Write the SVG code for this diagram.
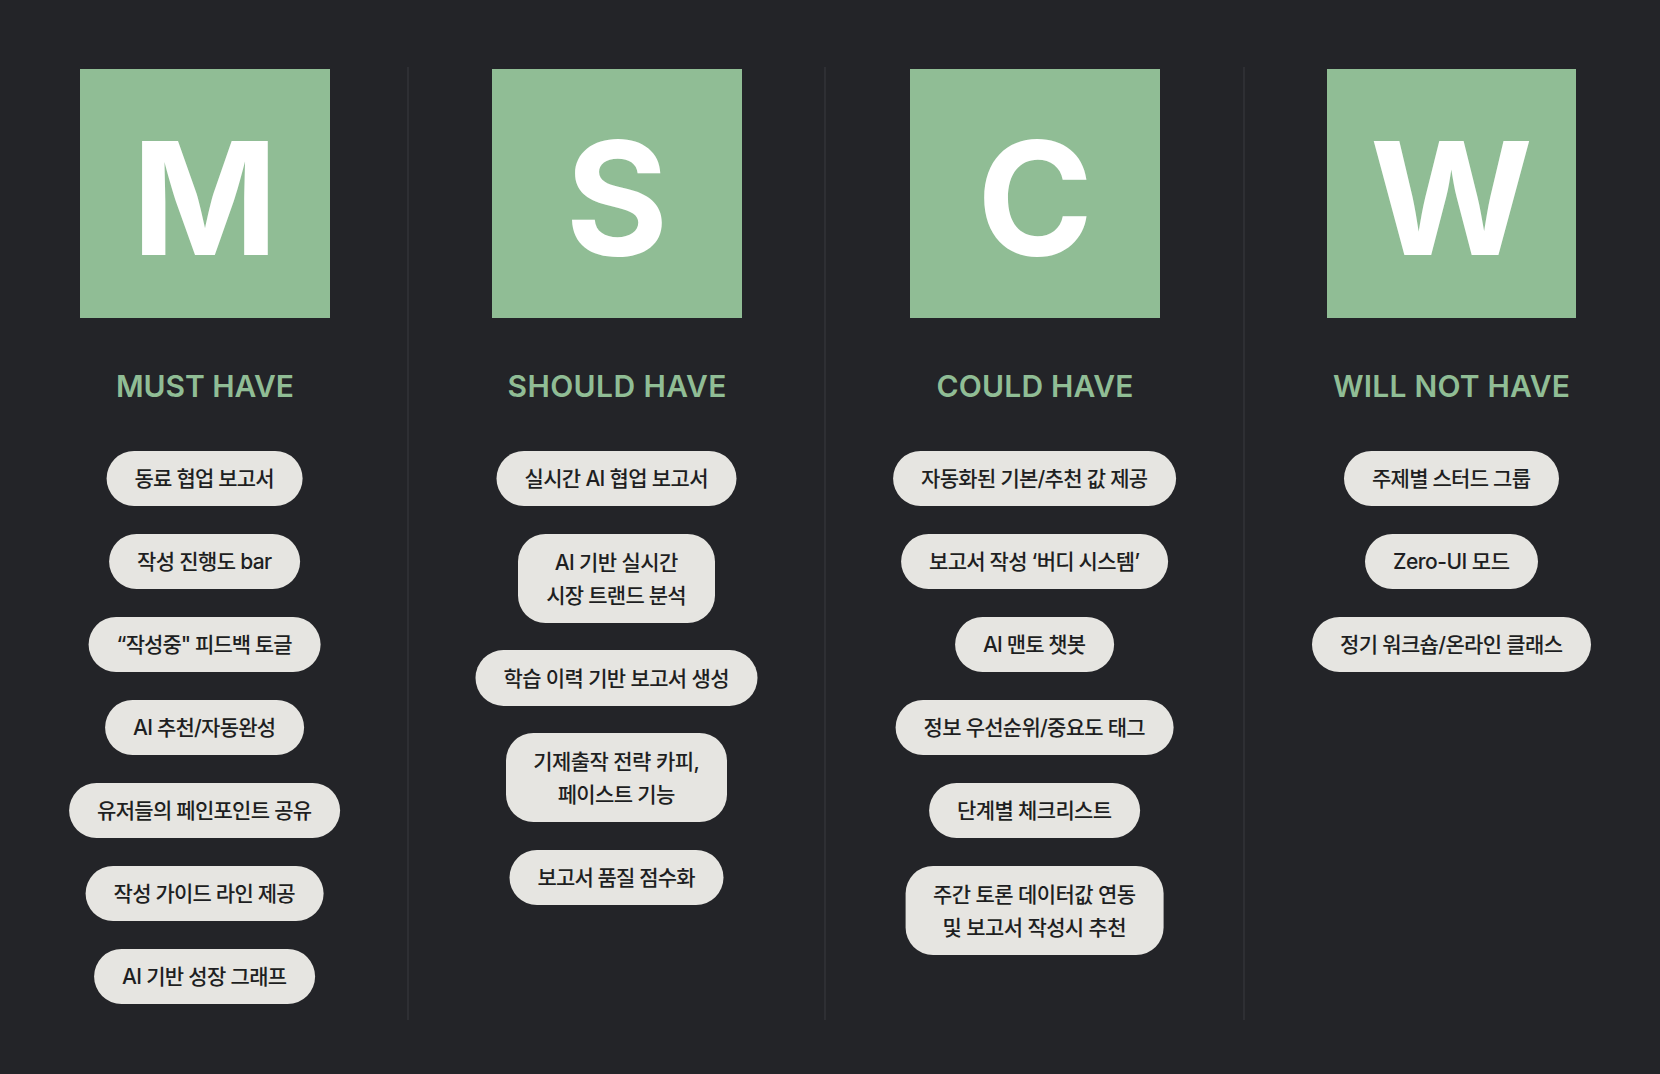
<svg xmlns="http://www.w3.org/2000/svg" width="1660" height="1074" viewBox="0 0 1660 1074">
<style>
.bg{fill:#232428}
.div{stroke:#36383c;stroke-width:1.2}
.box{fill:#90bd95}
.big{font-family:Inter,"Liberation Sans",sans-serif;font-weight:700;font-size:157px;fill:#ffffff;text-anchor:middle}
.head{font-family:Inter,"Liberation Sans",sans-serif;font-weight:600;font-size:30px;fill:#90bd95;text-anchor:middle}
.pill{fill:#e6e5e1}
.t{font-family:Inter,"Noto Sans CJK KR",sans-serif;font-weight:500;font-size:21px;fill:#1e1f22;text-anchor:middle}
</style>
<rect class="bg" x="0" y="0" width="1660" height="1074"/>
<g id="dividers">
<line class="div" x1="408" y1="67" x2="408" y2="1020"/>
<line class="div" x1="825" y1="67" x2="825" y2="1020"/>
<line class="div" x1="1244" y1="67" x2="1244" y2="1020"/>
</g>
<g id="col-must">
<rect class="box" x="80" y="69" width="250" height="249"/>
<text class="big" x="205" y="255">M</text>
<text class="head" x="205" y="397" textLength="178">MUST HAVE</text>
<g id="m1"><rect class="pill" x="106.6" y="451" width="196" height="55" rx="27.5"/><text class="t" x="204.6" y="486" textLength="140">동료 협업 보고서</text></g>
<g id="m2"><rect class="pill" x="109.1" y="534" width="191" height="55" rx="27.5"/><text class="t" x="204.6" y="569" textLength="135">작성 진행도 bar</text></g>
<g id="m3"><rect class="pill" x="88.6" y="617" width="232" height="55" rx="27.5"/><text class="t" x="204.6" y="652" textLength="176">“작성중" 피드백 토글</text></g>
<g id="m4"><rect class="pill" x="105.1" y="700" width="199" height="55" rx="27.5"/><text class="t" x="204.6" y="735" textLength="143">AI 추천/자동완성</text></g>
<g id="m5"><rect class="pill" x="69.1" y="783" width="271" height="55" rx="27.5"/><text class="t" x="204.6" y="818" textLength="215">유저들의 페인포인트 공유</text></g>
<g id="m6"><rect class="pill" x="85.6" y="866" width="238" height="55" rx="27.5"/><text class="t" x="204.6" y="901" textLength="182">작성 가이드 라인 제공</text></g>
<g id="m7"><rect class="pill" x="94.1" y="949" width="221" height="55" rx="27.5"/><text class="t" x="204.6" y="984" textLength="165">AI 기반 성장 그래프</text></g>
</g>
<g id="col-should">
<rect class="box" x="492" y="69" width="250" height="249"/>
<text class="big" x="617" y="255">S</text>
<text class="head" x="617" y="397" textLength="219">SHOULD HAVE</text>
<g id="s1"><rect class="pill" x="496.5" y="451" width="240" height="55" rx="27.5"/><text class="t" x="616.5" y="486" textLength="184">실시간 AI 협업 보고서</text></g>
<g id="s2"><rect class="pill" x="518" y="534" width="197" height="89" rx="27.5"/><text class="t" x="616.5" y="569.5" textLength="123.7">AI 기반 실시간</text><text class="t" x="616.5" y="602.5" textLength="140.4">시장 트랜드 분석</text></g>
<g id="s3"><rect class="pill" x="475.5" y="650" width="282" height="56" rx="28"/><text class="t" x="616.5" y="685.5" textLength="226">학습 이력 기반 보고서 생성</text></g>
<g id="s4"><rect class="pill" x="506" y="733" width="221" height="89" rx="27.5"/><text class="t" x="616.5" y="768.5" textLength="166.7">기제출작 전략 카피,</text><text class="t" x="616.5" y="801.5" textLength="117.7">페이스트 기능</text></g>
<g id="s5"><rect class="pill" x="509.5" y="850" width="214" height="55" rx="27.5"/><text class="t" x="616.5" y="885" textLength="158">보고서 품질 점수화</text></g>
</g>
<g id="col-could">
<rect class="box" x="910" y="69" width="250" height="249"/>
<text class="big" x="1035" y="255">C</text>
<text class="head" x="1035" y="397" textLength="197">COULD HAVE</text>
<g id="c1"><rect class="pill" x="893.1" y="451" width="283" height="55" rx="27.5"/><text class="t" x="1034.6" y="486" textLength="227">자동화된 기본/추천 값 제공</text></g>
<g id="c2"><rect class="pill" x="901.1" y="534" width="267" height="55" rx="27.5"/><text class="t" x="1034.6" y="569" textLength="211">보고서 작성 ‘버디 시스템’</text></g>
<g id="c3"><rect class="pill" x="955.1" y="617" width="159" height="55" rx="27.5"/><text class="t" x="1034.6" y="652" textLength="103">AI 맨토 챗봇</text></g>
<g id="c4"><rect class="pill" x="895.6" y="700" width="278" height="55" rx="27.5"/><text class="t" x="1034.6" y="735" textLength="222">정보 우선순위/중요도 태그</text></g>
<g id="c5"><rect class="pill" x="929.1" y="783" width="211" height="55" rx="27.5"/><text class="t" x="1034.6" y="818" textLength="155">단계별 체크리스트</text></g>
<g id="c6"><rect class="pill" x="905.6" y="866" width="258" height="89" rx="27.5"/><text class="t" x="1034.6" y="901.5" textLength="203">주간 토론 데이터값 연동</text><text class="t" x="1034.6" y="934.5" textLength="184">및 보고서 작성시 추천</text></g>
</g>
<g id="col-wont">
<rect class="box" x="1327" y="69" width="249" height="249"/>
<text class="big" x="1451.5" y="255">W</text>
<text class="head" x="1451.5" y="397" textLength="237">WILL NOT HAVE</text>
<g id="w1"><rect class="pill" x="1344" y="451" width="215" height="55" rx="27.5"/><text class="t" x="1451.5" y="486" textLength="159">주제별 스터드 그룹</text></g>
<g id="w2"><rect class="pill" x="1365" y="534" width="173" height="55" rx="27.5"/><text class="t" x="1451.5" y="569" textLength="117">Zero-UI 모드</text></g>
<g id="w3"><rect class="pill" x="1312" y="617" width="279" height="55" rx="27.5"/><text class="t" x="1451.5" y="652" textLength="223">정기 워크숍/온라인 클래스</text></g>
</g>
</svg>
